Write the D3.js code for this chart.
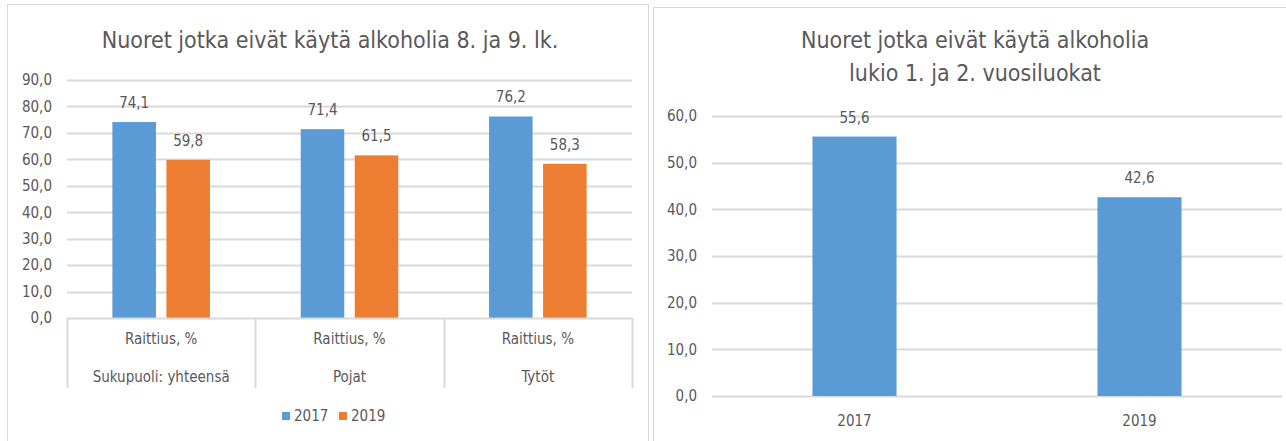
<!DOCTYPE html>
<html>
<head>
<meta charset="utf-8">
<script src="https://cdn.jsdelivr.net/npm/d3@7"></script>
<style>
  body { margin: 0; background: #fff; }
  svg text { font-family: "Liberation Sans Narrow", "DejaVu Sans Condensed", "Liberation Sans", sans-serif; fill: #595959; }
</style>
</head>
<body>
<div id="chart"></div>
<script>
// Data for the left chart (8. ja 9. lk.)
var groups = ["Sukupuoli: yhteensä", "Pojat", "Tytöt"];
var measure = "Raittius, %";
var years = ["2017", "2019"];
var values2017 = [74.1, 71.4, 76.2];
var values2019 = [59.8, 61.5, 58.3];
var yTicksLeft = [0, 10, 20, 30, 40, 50, 60, 70, 80, 90];

// Data for the right chart (lukio)
var lukioYears = ["2017", "2019"];
var lukioValues = [55.6, 42.6];
var yTicksRight = [0, 10, 20, 30, 40, 50, 60];

var colors = { "2017": "#5b9bd5", "2019": "#ed7d31" };
var gridColor = "#d9d9d9";
var fmt = function (v) { return d3.format(".1f")(v).replace(".", ","); };

var svg = d3.select("#chart")
    .append("svg")
    .attr("width", 1286)
    .attr("height", 441);

// Panel borders
svg.append("rect")
    .attr("x", 7.5).attr("y", 4.5).attr("width", 641).attr("height", 460)
    .attr("fill", "none").attr("stroke", gridColor);
svg.append("rect")
    .attr("x", 653.5).attr("y", 7.5).attr("width", 660).attr("height", 460)
    .attr("fill", "none").attr("stroke", gridColor);

// ---------- Left chart ----------
var left = svg.append("g");

left.append("text")
    .attr("x", 330).attr("y", 48)
    .attr("text-anchor", "middle")
    .style("font-size", "23px")
    .text("Nuoret jotka eivät käytä alkoholia 8. ja 9. lk.");

var y0 = d3.scaleLinear().domain([0, 90]).range([318, 80]);
var x0 = d3.scaleBand().domain(groups).range([67, 632]);
var x1 = d3.scaleBand().domain(years).range([0, x0.bandwidth()])
    .paddingInner(0.194).paddingOuter(0.84);

// gridlines
left.append("g")
    .selectAll("line")
    .data(yTicksLeft.slice(1))
    .enter().append("line")
    .attr("x1", 67).attr("x2", 632)
    .attr("y1", function (d) { return Math.round(y0(d)) + 0.5; })
    .attr("y2", function (d) { return Math.round(y0(d)) + 0.5; })
    .attr("stroke", gridColor).attr("stroke-width", 2);

// y axis labels
var yAxisL = d3.axisLeft(y0).tickValues(yTicksLeft).tickFormat(fmt).tickSize(0).tickPadding(15);
var gyL = left.append("g").attr("transform", "translate(67,0)").call(yAxisL);
gyL.select(".domain").remove();
gyL.selectAll("text").style("font-size", "15px").attr("fill", "#595959").style("font-family", null);

// bars
var rows = groups.map(function (g, i) {
    return { group: g, vals: [{ year: "2017", v: values2017[i] }, { year: "2019", v: values2019[i] }] };
});
var grp = left.selectAll(".grp")
    .data(rows)
    .enter().append("g")
    .attr("class", "grp")
    .attr("transform", function (d) { return "translate(" + x0(d.group) + ",0)"; });

grp.selectAll("rect")
    .data(function (d) { return d.vals; })
    .enter().append("rect")
    .attr("x", function (d) { return x1(d.year); })
    .attr("width", x1.bandwidth())
    .attr("y", function (d) { return y0(d.v); })
    .attr("height", function (d) { return y0(0) - y0(d.v); })
    .attr("fill", function (d) { return colors[d.year]; });

grp.selectAll(".lbl")
    .data(function (d) { return d.vals; })
    .enter().append("text")
    .attr("class", "lbl")
    .attr("x", function (d) { return x1(d.year) + x1.bandwidth() / 2; })
    .attr("y", function (d) { return y0(d.v) - 14; })
    .attr("text-anchor", "middle")
    .style("font-size", "15px")
    .text(function (d) { return fmt(d.v); });

// category box below
left.append("line")
    .attr("x1", 67).attr("x2", 632).attr("y1", 318.5).attr("y2", 318.5)
    .attr("stroke", gridColor).attr("stroke-width", 2);
left.selectAll(".div")
    .data(groups.concat(["end"]))
    .enter().append("line")
    .attr("class", "div")
    .attr("x1", function (d, i) { return Math.round(i < groups.length ? x0(d) : x0.range()[1]) + 0.5; })
    .attr("x2", function (d, i) { return Math.round(i < groups.length ? x0(d) : x0.range()[1]) + 0.5; })
    .attr("y1", 318).attr("y2", 388)
    .attr("stroke", gridColor).attr("stroke-width", 2);

left.selectAll(".meas")
    .data(groups)
    .enter().append("text")
    .attr("x", function (d) { return x0(d) + x0.bandwidth() / 2; })
    .attr("y", 344)
    .attr("text-anchor", "middle")
    .style("font-size", "15px")
    .text(measure);

left.selectAll(".cat")
    .data(groups)
    .enter().append("text")
    .attr("x", function (d) { return x0(d) + x0.bandwidth() / 2; })
    .attr("y", 382)
    .attr("text-anchor", "middle")
    .style("font-size", "15px")
    .text(function (d) { return d; });

// legend
var legend = left.selectAll(".leg")
    .data(years)
    .enter().append("g")
    .attr("transform", function (d, i) { return "translate(" + (282 + i * 57) + ",412)"; });
legend.append("rect")
    .attr("width", 8).attr("height", 8)
    .attr("fill", function (d) { return colors[d]; });
legend.append("text")
    .attr("x", 12).attr("y", 9)
    .style("font-size", "15px")
    .text(function (d) { return d; });

// ---------- Right chart ----------
var right = svg.append("g");

right.append("text")
    .attr("x", 975).attr("y", 48)
    .attr("text-anchor", "middle")
    .style("font-size", "23px")
    .text("Nuoret jotka eivät käytä alkoholia");
right.append("text")
    .attr("x", 975).attr("y", 81)
    .attr("text-anchor", "middle")
    .style("font-size", "23px")
    .text("lukio 1. ja 2. vuosiluokat");

var y2 = d3.scaleLinear().domain([0, 60]).range([396, 116]);
var x2 = d3.scaleBand().domain(lukioYears).range([712, 1282])
    .paddingInner(0.705).paddingOuter(0.3525);

right.append("g")
    .selectAll("line")
    .data(yTicksRight)
    .enter().append("line")
    .attr("x1", 712).attr("x2", 1282)
    .attr("y1", function (d) { return Math.round(y2(d)) + 0.5; })
    .attr("y2", function (d) { return Math.round(y2(d)) + 0.5; })
    .attr("stroke", gridColor).attr("stroke-width", 2);

var yAxisR = d3.axisLeft(y2).tickValues(yTicksRight).tickFormat(fmt).tickSize(0).tickPadding(15);
var gyR = right.append("g").attr("transform", "translate(712,0)").call(yAxisR);
gyR.select(".domain").remove();
gyR.selectAll("text").style("font-size", "15px").attr("fill", "#595959").style("font-family", null);

right.selectAll(".bar")
    .data(lukioValues)
    .enter().append("rect")
    .attr("x", function (d, i) { return x2(lukioYears[i]); })
    .attr("width", x2.bandwidth())
    .attr("y", function (d) { return y2(d); })
    .attr("height", function (d) { return y2(0) - y2(d); })
    .attr("fill", colors["2017"]);

right.selectAll(".lbl2")
    .data(lukioValues)
    .enter().append("text")
    .attr("x", function (d, i) { return x2(lukioYears[i]) + x2.bandwidth() / 2; })
    .attr("y", function (d) { return y2(d) - 14; })
    .attr("text-anchor", "middle")
    .style("font-size", "15px")
    .text(function (d) { return fmt(d); });

var xAxisR = d3.axisBottom(x2).tickSize(0).tickPadding(0);
var gxR = right.append("g").attr("transform", "translate(0,396)").call(xAxisR);
gxR.select(".domain").remove();
gxR.selectAll("text").attr("dy", null).attr("y", 30).style("font-size", "15px").attr("fill", "#595959").style("font-family", null);
</script>
</body>
</html>
